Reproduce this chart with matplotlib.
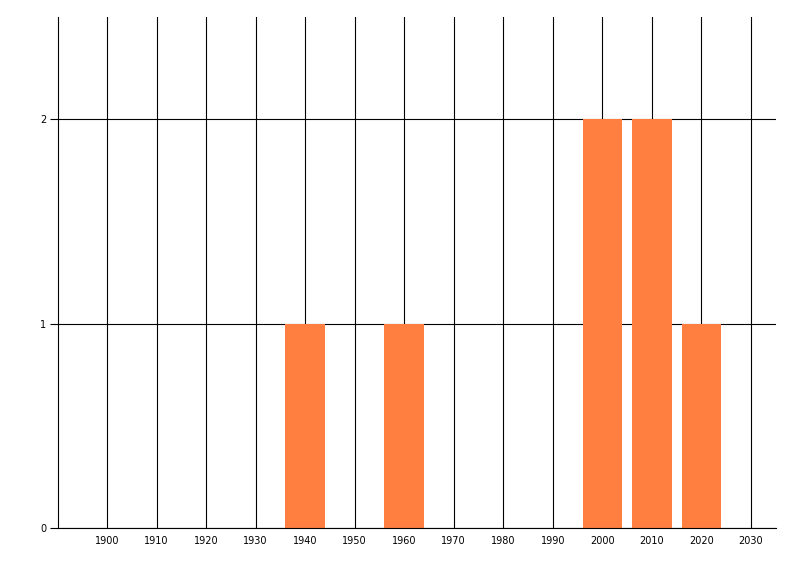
import matplotlib
matplotlib.use("Agg")
from matplotlib import pyplot as plt

# decades and counts
decades = [1940, 1960, 2000, 2010, 2020]
counts = [1, 1, 2, 2, 1]
xticks = list(range(1900, 2031, 10))
yticks = [0, 1, 2]

fig = plt.figure(figsize=(8, 5.76), dpi=100)
ax = fig.add_axes([0.0719, 0.0833, 0.8977, 0.8872])

ax.set_axisbelow(True)
ax.grid(True, color="black", linewidth=0.8)
ax.bar(decades, counts, width=8, color="#FF7F41", zorder=3)

ax.set_xlim(1890, 2035)
ax.set_ylim(0, 2.5)
ax.set_xticks(xticks)
ax.set_yticks(yticks)
ax.set_xticklabels([str(t) for t in xticks])
ax.set_yticklabels([str(t) for t in yticks])

for side in ["top", "right"]:
    ax.spines[side].set_visible(False)
for side in ["left", "bottom"]:
    ax.spines[side].set_linewidth(0.8)
    ax.spines[side].set_color("black")
    ax.spines[side].set_zorder(4)

ax.tick_params(axis="x", length=0, pad=6, labelsize=7)
ax.tick_params(axis="y", length=6, width=0.8, pad=2, labelsize=7)

fig.savefig("out.png", dpi=100)
